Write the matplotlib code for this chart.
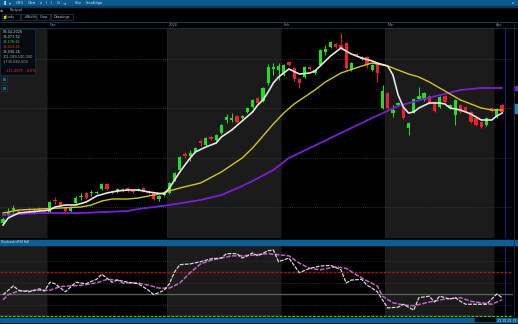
import matplotlib
matplotlib.use("Agg")
import matplotlib.pyplot as plt
from matplotlib.patches import Rectangle

W, H = 518, 324

# daily candles, price
opens = [17, 25, 30, 29, 28, 29, 27, 31, 29, 28, 40, 38, 33, 29, 37, 43, 47, 47, 47, 51,
         56, 49, 48, 51, 52, 49, 50, 52, 49, 47, 41, 45, 47, 60, 70, 86, 84, 88, 99, 95,
         103, 100, 107, 120, 120, 124, 122, 128, 133, 142, 139, 157, 171, 170, 165, 178, 172, 161, 163, 173,
         167, 175, 188, 193, 196, 195, 197, 170, 186, 181, 183, 170, 177, 132, 147, 127, 135, 133, 112, 128,
         141, 140, 144, 138, 133, 144, 132, 125, 135, 133, 128, 122, 118, 115, 132, 123, 135]
highs = [23, 32, 35, 30, 29, 33, 31, 33, 30, 39, 43, 39, 34, 34, 44, 47, 48, 50, 49, 57,
         57, 50, 52, 52, 53, 50, 52, 53, 50, 48, 45, 49, 58, 68, 84, 88, 90, 93, 101, 103,
         104, 106, 116, 126, 127, 125, 125, 133, 141, 143, 153, 176, 177, 177, 176, 179, 173, 162, 174, 174,
         171, 191, 195, 199, 197, 207, 198, 178, 187, 184, 184, 176, 178, 155, 148, 135, 138, 134, 118, 142,
         153, 148, 145, 139, 144, 145, 136, 141, 136, 134, 129, 123, 119, 123, 133, 132, 136]
lows = [15, 24, 27, 27, 26, 26, 26, 28, 27, 27, 36, 34, 28, 28, 36, 40, 41, 44, 46, 50,
        50, 46, 47, 48, 48, 47, 49, 48, 46, 40, 39, 44, 46, 59, 69, 82, 79, 87, 94, 94,
        100, 99, 106, 117, 118, 117, 121, 127, 132, 136, 138, 155, 165, 160, 164, 174, 159, 152, 162, 170,
        166, 174, 185, 192, 192, 190, 171, 169, 183, 180, 172, 169, 158, 131, 131, 123, 134, 121, 105, 127,
        140, 139, 136, 128, 132, 137, 131, 115, 127, 128, 117, 114, 112, 114, 128, 122, 127]
closes = [21, 28, 32, 28, 27, 27, 29, 29, 28, 38, 39, 35, 29, 33, 42, 44, 42, 48, 48, 56,
          51, 47, 51, 49, 49, 48, 51, 49, 47, 41, 44, 48, 57, 67, 83, 84, 87, 92, 97, 102,
          101, 105, 115, 123, 122, 118, 124, 132, 140, 137, 152, 173, 173, 174, 175, 175, 161, 157, 173, 171,
          170, 190, 191, 198, 193, 192, 172, 177, 184, 183, 175, 175, 167, 149, 132, 130, 137, 122, 117, 141,
          144, 147, 137, 129, 143, 138, 135, 140, 128, 129, 118, 115, 113, 122, 129, 131, 128]

# moving averages (candle index, value)
fast_x = [0, 1, 3, 5, 7, 9, 10, 12, 14, 16, 18, 20, 22, 24, 26, 28, 31, 32, 33, 34, 35, 36, 37, 39, 41,
          42, 44, 46, 48, 49, 50, 51, 52, 53, 55, 57, 59, 60, 61, 63, 65, 67, 69, 71, 72, 74, 75, 76,
          77, 78, 79, 80, 82, 84, 85, 86, 88, 90, 92, 94, 95, 96]
fast_y = [15, 22, 27, 28, 29, 30, 33, 35, 35, 38, 44, 47, 49, 50, 50, 48, 46, 52, 60, 68, 75, 82, 88, 93, 97,
          103, 110, 119, 128, 135, 140, 148, 157, 163, 171, 166, 167, 169, 174, 184, 192, 186, 182, 179, 177, 174, 165, 145,
          133, 127, 128, 132, 137, 137, 136, 132, 130, 126, 120, 120, 124, 127]
mid_x = [0, 3, 7, 11, 15, 17, 19, 21, 24, 26, 30, 34, 38, 42, 46, 48, 50, 52, 54, 56, 58, 60, 62, 65,
         69, 71, 74, 76, 78, 80, 82, 84, 86, 88, 90, 92, 94, 96]
mid_y = [27, 30, 31, 32, 33, 35, 39, 41, 41, 42, 46, 52, 57, 68, 82, 92, 104, 116, 127, 136, 143, 150, 158, 167,
         174, 177, 174, 170, 166, 163, 158, 152, 146, 140, 136, 132, 130, 130]
slow_x = [0, 7, 15, 24, 26, 32, 38, 42, 46, 48, 52, 55, 59, 65, 71, 76, 81, 88, 92, 96]
slow_y = [25, 27, 27, 29, 31, 35, 40, 45, 54, 59, 70, 82, 92, 107, 122, 134, 141, 150, 152, 152]

# lower study
osc_x = [0, 1, 2, 3, 5, 7, 8, 9, 10, 12, 14, 16, 18, 19, 21, 22, 24, 26, 28, 29, 31, 32, 33, 34, 36,
         38, 40, 42, 43, 45, 46, 47, 48, 49, 51, 52, 53, 55, 57, 59, 61, 63, 65, 66, 67, 69, 70, 71,
         72, 74, 76, 77, 79, 80, 82, 83, 84, 86, 87, 88, 89, 91, 93, 94, 95, 96]
osc_y = [49, 55, 61, 55, 53, 57, 54, 66, 64, 53, 66, 64, 70, 77, 66, 69, 66, 64, 55, 49, 55, 64, 80, 90, 91,
         94, 98, 99, 105, 105, 99, 102, 106, 102, 109, 110, 94, 99, 79, 85, 88, 89, 83, 65, 69, 70, 62, 58,
         53, 31, 32, 36, 28, 45, 47, 39, 47, 43, 45, 40, 36, 36, 36, 43, 50, 45]
sig_x = [0, 1, 3, 7, 9, 11, 15, 18, 20, 22, 23, 26, 28, 30, 32, 34, 36, 38, 40, 42, 44, 46, 48, 51,
         55, 57, 59, 61, 64, 66, 68, 70, 72, 73, 75, 77, 79, 82, 85, 88, 90, 92, 94, 96]
sig_y = [42, 49, 54, 55, 55, 60, 62, 65, 70, 69, 65, 65, 62, 58, 58, 65, 79, 91, 96, 99, 102, 102, 103, 105,
         102, 92, 85, 83, 87, 85, 76, 68, 61, 47, 38, 35, 34, 39, 43, 45, 40, 38, 36, 42]
levels = [80, 50, 20]

month_starts = [9, 32, 54, 74, 95]
month_labels = ["Dec", "2026", "Feb", "Mar", "Apr"]

info_lines = ["03.04.2026", "13,071.52", "13,176.61", "13,014.41", "13,036.26",
              "301,189,100,000", "1,735,682,000"]
info_colors = ["#c8c8c8", "#c8c8c8", "#2ee02e", "#ff3030", "#c8c8c8", "#a0a0a0", "#a0a0a0"]

GREEN = "#1fe01f"
RED = "#f02028"
GRAY_BG = "#1b1b1b"


def box(x0, y0, x1, y1):
    return [x0 / W, 1 - y1 / H, (x1 - x0) / W, (y1 - y0) / H]


def shade(ax):
    edges = [-2] + [m - 0.5 for m in month_starts] + [100]
    for k in range(len(edges) - 1):
        ax.axvspan(edges[k], edges[k + 1], color=GRAY_BG if k % 2 == 0 else "black", lw=0, zorder=0)
    for m in month_starts:
        ax.axvline(m - 0.5, color="#2a2a2a", lw=0.6, ls=(0, (1, 1.5)), zorder=0.5)
    ax.axvline(96.5, color="#1c1c78", lw=0.9, zorder=0.6)


def clean(ax):
    ax.set_xticks([])
    for s in ax.spines.values():
        s.set_visible(False)
    ax.tick_params(left=False, labelleft=False)


fig = plt.figure(figsize=(W / 100, H / 100), dpi=100, facecolor="black")

# price panel
ax = fig.add_axes(box(0, 28, 513, 238))
ax.set_facecolor("black")
ax.set_xlim(-0.58, 98.1)
ax.set_ylim(2, 212)
shade(ax)
clean(ax)
ax.set_yticks([33, 82, 132, 181])
ax.grid(axis="y", color="#3c3c3c", lw=0.6, ls=(0, (1, 1.5)))

idx = list(range(len(closes)))
up = [c >= o for o, c in zip(opens, closes)]
cols = [GREEN if u else RED for u in up]
ax.vlines(idx, lows, highs, colors=cols, lw=0.7, zorder=2)
ax.bar(idx, [abs(c - o) for o, c in zip(opens, closes)],
       bottom=[min(o, c) for o, c in zip(opens, closes)],
       width=0.62, color=cols, lw=0, zorder=3)

ax.plot(slow_x, slow_y, color="#7a1fd6", lw=1.3, zorder=4)
ax.plot(mid_x, mid_y, color="#d2c51c", lw=1.0, zorder=4)
ax.plot(fast_x, fast_y, color="#e6e6e6", lw=1.2, zorder=5)

# lower study panel
ax2 = fig.add_axes(box(0, 245, 513, 317))
ax2.set_facecolor("black")
ax2.set_xlim(-0.58, 98.1)
ax2.set_ylim(18.6, 116.8)
shade(ax2)
clean(ax2)
ax2.set_yticks([35, 65, 95])
ax2.grid(axis="y", color="#333333", lw=0.6, ls=(0, (1, 1.5)))
ax2.axhline(levels[0], color="#b01212", lw=1.0, ls=(0, (2, 1)), zorder=2)
ax2.axhline(levels[1], color="#5a5a5a", lw=1.0, zorder=2)
ax2.axhline(levels[2], color="#3cc03c", lw=1.0, ls=(0, (2, 1)), zorder=2)
ax2.plot(sig_x, sig_y, color="#c462c8", lw=1.1, ls=(0, (3, 1)), zorder=3)
ax2.plot(osc_x, osc_y, color="#d8d8d8", lw=0.9, ls=(0, (3, 1)), zorder=4)

# platform chrome drawn on top
ui = fig.add_axes([0, 0, 1, 1])
ui.set_xlim(0, W)
ui.set_ylim(H, 0)
ui.axis("off")
ui.patch.set_alpha(0)

ui.add_patch(Rectangle((0, 0), W, 6, color="#0c5a8e"))
ui.add_patch(Rectangle((0, 6), W, 1.2, color="#073a5c"))
for tx, t in [(3, "▐"), (9, "▾"), (16, "GRG"), (28, "Gbw"), (40, "x"), (46, "I"), (51, "I"),
              (57, "G"), (63, "⇥"), (75, "Site"), (86, "IdeaEdge"), (512, "x")]:
    ui.text(tx, 3.3, t, color="#d8e4ee", fontsize=2.6, va="center")
ui.text(0, 10.5, "ds", color="#b0b8c0", fontsize=2.6, va="center")
ui.text(10, 10.5, "Portpol", color="#b0b8c0", fontsize=2.6, va="center")

for x0, x1, t in [(2, 20, "Study"), (21, 36, "✓Width"), (37, 50, "Crop"), (51, 73, "Drawings")]:
    ui.add_patch(Rectangle((x0, 14), x1 - x0, 6, fill=False, ec="#1d3a50", lw=0.5))
    ui.text(x0 + 2.5, 17, t, color="#b8c4cc", fontsize=2.5, va="center")
ui.add_patch(Rectangle((3.5, 15.8), 1.8, 1.8, color="#e8d000"))
ui.plot([0, W], [21.5, 21.5], color="#163c58", lw=0.7)
ui.plot([0, W], [28, 28], color="#163c58", lw=0.5)
ui.plot([513.5, 513.5], [22, 318], color="#10334a", lw=0.6)
for m, lab in zip(month_starts, month_labels):
    ui.text(3 + (m - 0.5) * 5.2 + 2, 24.8, lab, color="#7f93aa", fontsize=2.6, va="center")

# quote box
ui.add_patch(Rectangle((0, 28.5), 35, 46, color="#050b10", ec="#1a3040", lw=0.5))
for k, (t, c) in enumerate(zip(info_lines, info_colors)):
    ui.text(3, 32 + k * 5, t, color=c, fontsize=2.5, va="center")
ui.text(5, 71, "-111.2875  -4.0%", color="#ff3030", fontsize=2.5, va="center")
for y0 in (76, 85):
    ui.add_patch(Rectangle((1, y0), 6, 6, color="#07151d", ec="#1c3c4c", lw=0.5))
    ui.add_patch(Rectangle((3.2, y0 + 2.2), 1.6, 1.6, color="#2a6070"))

# price bubbles at right edge
ui.add_patch(Rectangle((514, 86), 4, 4, color="#7a1fd6"))
ui.add_patch(Rectangle((514, 104), 4, 9, color="#2c7fb8"))

# study header and bottom bar
ui.add_patch(Rectangle((0, 239.5), W, 5.5, color="#0c5f94"))
ui.text(1, 242.2, "StochasticRSI", color="#d8e4ee", fontsize=2.4, va="center")
ui.text(24, 242.2, "Full", color="#d8e4ee", fontsize=2.4, va="center")
ui.add_patch(Rectangle((0, 317.5), W, 4.5, color="#0c5f94"))
ui.add_patch(Rectangle((475, 318.3), 20, 2.8, color="#02080c"))
for tx in (498, 503, 508, 513):
    ui.add_patch(Rectangle((tx, 318.6), 2.4, 2.2, fill=False, ec="#9ab0c0", lw=0.4))

fig.savefig("out.png", dpi=100, facecolor="black")
